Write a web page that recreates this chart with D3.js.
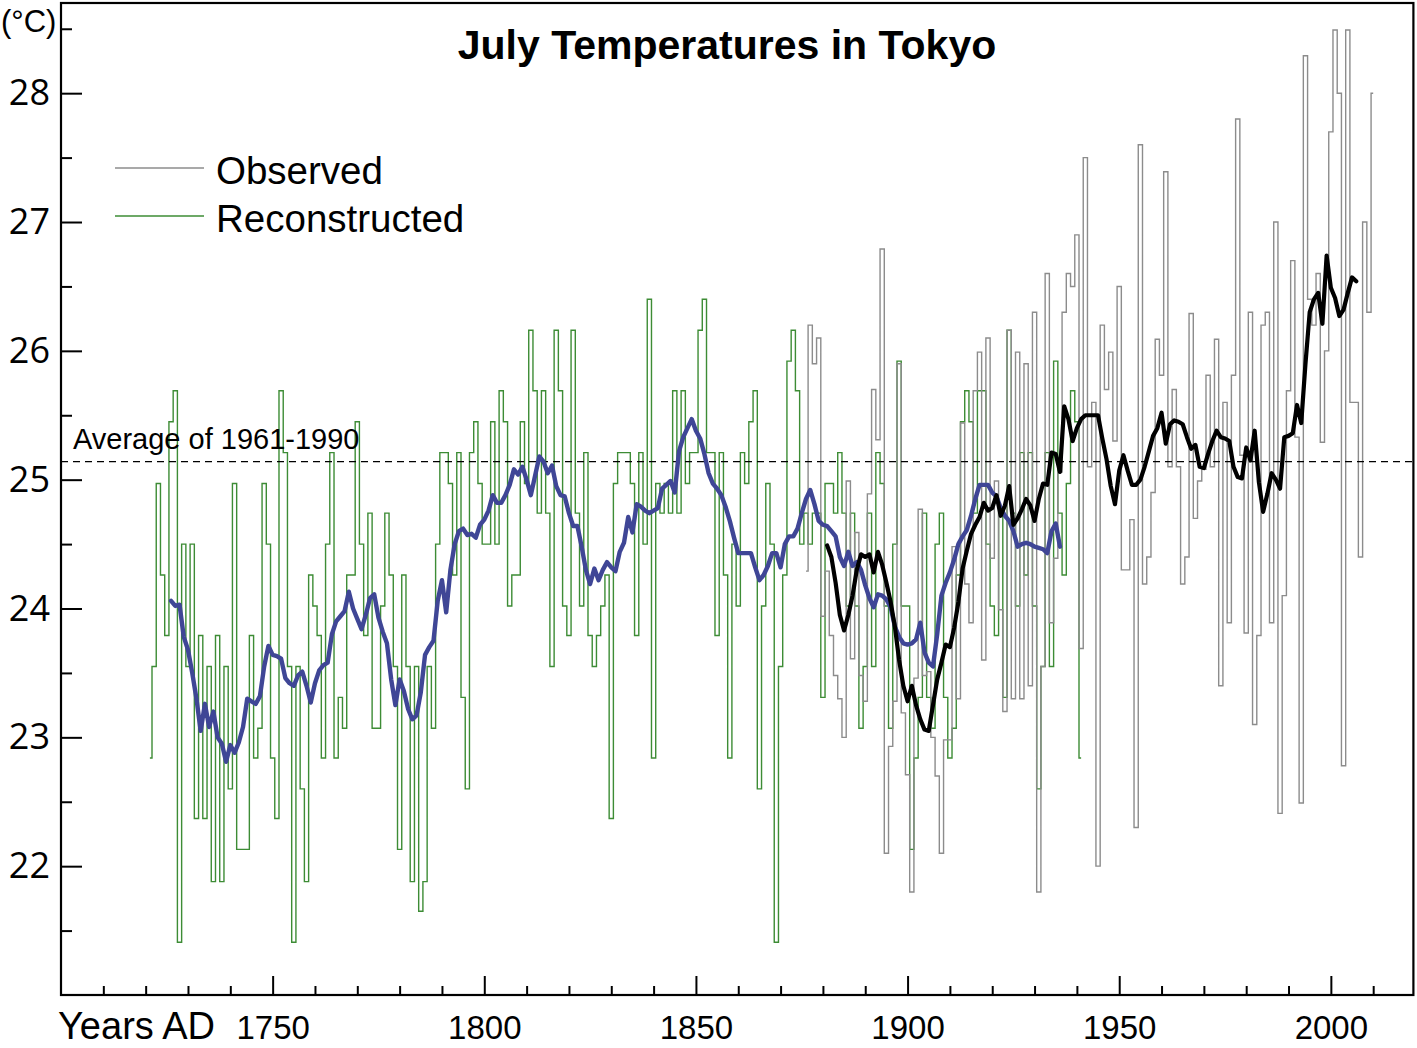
<!DOCTYPE html>
<html>
<head>
<meta charset="utf-8">
<script src="https://cdn.jsdelivr.net/npm/d3@7"></script>
<style>
  html, body { margin: 0; padding: 0; background: #ffffff; }
  svg { display: block; }
</style>
</head>
<body>
<svg id="chart" width="1417" height="1048"></svg>
<script>
// ---------------- DATA ----------------
const chartTitle = "July Temperatures in Tokyo";
const unitLabel = "(°C)";
const xAxisLabel = "Years AD";
const seriesNames = ["Observed", "Reconstructed"];
const avgLabel = "Average of 1961-1990";
const avgValue = 25.14;

const xMajorTicks = [1750, 1800, 1850, 1900, 1950, 2000];
const xMinorTicks = [1710, 1720, 1730, 1740, 1760, 1770, 1780, 1790, 1810, 1820, 1830, 1840,
                     1860, 1870, 1880, 1890, 1910, 1920, 1930, 1940, 1960, 1970, 1980, 1990, 2010];
const yMajorTicks = [22, 23, 24, 25, 26, 27, 28];
const yMinorTicks = [21.5, 22.5, 23.5, 24.5, 25.5, 26.5, 27.5, 28.5];

// Reconstructed July temperature (annual), 1721-1941
const reconStartYear = 1721;
const reconValues = [
  22.84, 23.55, 24.97, 24.26, 23.79, 25.45, 25.69, 21.41, 24.50, 23.55,
  24.50, 22.37, 23.79, 22.37, 23.55, 21.88, 23.79, 21.88, 23.55, 22.60,
  24.97, 22.13, 22.13, 22.13, 23.79, 22.84, 23.07, 24.97, 24.50, 22.84,
  22.37, 25.69, 25.21, 23.55, 21.41, 23.55, 22.60, 21.88, 24.26, 24.02,
  23.79, 22.84, 24.50, 25.21, 22.84, 23.31, 23.07, 24.26, 24.26, 25.45,
  24.50, 23.79, 24.74, 23.07, 23.07, 24.02, 24.74, 24.26, 23.55, 22.13,
  24.26, 23.55, 21.88, 23.55, 21.65, 21.88, 23.55, 23.07, 24.50, 25.21,
  25.21, 24.97, 24.26, 25.21, 23.31, 22.60, 25.21, 25.45, 24.97, 24.50,
  24.50, 25.45, 24.50, 25.69, 25.45, 24.02, 24.26, 24.26, 25.45, 24.97,
  26.16, 25.69, 24.74, 25.69, 24.74, 23.55, 26.16, 25.69, 24.02, 23.79,
  26.16, 24.74, 24.02, 25.21, 23.79, 23.55, 23.79, 24.02, 24.26, 22.37,
  24.97, 25.21, 25.21, 25.21, 24.97, 23.79, 25.21, 24.50, 26.40, 22.84,
  24.97, 24.74, 24.97, 24.74, 25.69, 24.74, 25.69, 24.97, 25.21, 25.21,
  26.16, 26.40, 25.21, 25.21, 23.79, 25.21, 24.26, 22.84, 24.50, 24.02,
  25.21, 24.97, 25.45, 25.69, 22.60, 24.02, 24.97, 24.50, 21.41, 23.55,
  24.26, 25.92, 26.16, 25.69, 24.50, 24.74, 24.50, 24.74, 24.74, 23.31,
  24.97, 24.97, 24.74, 25.21, 24.74, 24.02, 24.74, 24.02, 23.07, 23.55,
  24.74, 23.55, 25.21, 24.97, 24.02, 23.07, 24.50, 25.92, 24.02, 24.02,
  22.13, 22.84, 23.31, 24.74, 23.31, 23.07, 24.50, 24.74, 23.31, 22.84,
  23.07, 24.26, 25.45, 25.69, 25.45, 24.74, 25.69, 25.69, 24.50, 24.02,
  23.79, 24.74, 23.31, 26.16, 24.74, 24.02, 25.21, 24.26, 25.21, 24.02,
  22.60, 23.55, 25.21, 23.55, 25.92, 24.74, 24.26, 24.97, 25.69, 25.45, 22.84
];

// Observed July temperature (annual), 1876-2010
const obsStartYear = 1876;
const obsValues = [
  24.29, 26.20, 25.90, 26.10, 23.94, 24.29, 23.79, 23.48, 23.30, 23.00,
  24.99, 23.61, 24.59, 23.48, 23.28, 24.89, 25.70, 25.31, 26.79, 22.10,
  22.93, 23.28, 25.90, 23.19, 22.71, 21.80, 23.46, 24.77, 23.48, 23.51,
  23.00, 22.70, 22.10, 22.98, 22.98, 24.48, 23.30, 25.44, 24.19, 23.89,
  25.69, 25.99, 23.60, 26.10, 24.39, 24.99, 23.99, 23.20, 26.16, 23.30,
  25.99, 23.30, 25.90, 23.40, 26.30, 21.80, 23.55, 26.60, 23.89, 24.39,
  25.06, 26.30, 26.60, 26.50, 26.90, 23.69, 27.50, 25.10, 25.60, 22.00,
  26.20, 25.70, 25.99, 25.30, 26.50, 24.30, 24.30, 24.69, 22.30, 27.60,
  24.19, 24.40, 24.90, 26.09, 25.81, 27.39, 25.10, 25.70, 25.10, 24.19,
  24.40, 26.29, 24.70, 24.99, 25.08, 25.81, 25.10, 26.09, 23.40, 25.60,
  23.89, 25.81, 27.80, 25.19, 23.81, 26.30, 23.10, 23.79, 26.20, 26.30,
  23.89, 27.00, 22.41, 24.10, 25.69, 26.70, 25.33, 22.49, 28.29, 26.40,
  26.20, 26.60, 25.29, 26.00, 27.70, 28.49, 28.00, 22.78, 28.49, 25.60,
  25.60, 24.40, 27.00, 26.30, 28.00
];

// Smoothed reconstruction (blue), 1726-1936
const reconSmoothStartYear = 1726;
const reconSmoothValues = [
  24.06, 24.02, 24.03, 23.78, 23.68, 23.50, 23.30, 23.05, 23.26, 23.08,
  23.20, 23.00, 22.95, 22.81, 22.94, 22.88, 22.96, 23.08, 23.30, 23.28,
  23.26, 23.32, 23.55, 23.71, 23.64, 23.63, 23.61, 23.46, 23.42, 23.40,
  23.48, 23.51, 23.40, 23.27, 23.42, 23.52, 23.56, 23.58, 23.80, 23.90,
  23.94, 23.98, 24.13, 24.00, 23.92, 23.84, 23.95, 24.08, 24.11, 23.93,
  23.82, 23.73, 23.45, 23.25, 23.45, 23.36, 23.22, 23.14, 23.17, 23.35,
  23.64, 23.70, 23.75, 24.06, 24.22, 23.97, 24.30, 24.50, 24.60, 24.62,
  24.57, 24.58, 24.55, 24.65, 24.69, 24.76, 24.88, 24.82, 24.82, 24.88,
  24.96, 25.08, 25.04, 25.10, 25.00, 24.88, 25.03, 25.18, 25.14, 25.05,
  25.11, 24.95, 24.88, 24.87, 24.74, 24.64, 24.64, 24.48, 24.30, 24.19,
  24.31, 24.22, 24.30, 24.36, 24.32, 24.29, 24.44, 24.51, 24.71, 24.59,
  24.81, 24.79, 24.76, 24.74, 24.76, 24.78, 24.93, 24.96, 24.99, 24.90,
  25.22, 25.33, 25.40, 25.47, 25.38, 25.32, 25.20, 25.05, 24.97, 24.93,
  24.88, 24.79, 24.68, 24.55, 24.43, 24.43, 24.43, 24.43, 24.32, 24.22,
  24.26, 24.33, 24.43, 24.43, 24.32, 24.50, 24.56, 24.56, 24.62, 24.74,
  24.85, 24.92, 24.81, 24.68, 24.65, 24.64, 24.60, 24.56, 24.40, 24.33,
  24.44, 24.33, 24.36, 24.30, 24.18, 24.08, 24.01, 24.11, 24.10, 24.07,
  24.01, 23.86, 23.78, 23.73, 23.72, 23.73, 23.76, 23.89, 23.66, 23.58,
  23.55, 23.80, 24.10, 24.20, 24.28, 24.38, 24.50, 24.56, 24.61, 24.72,
  24.85, 24.96, 24.96, 24.96, 24.90, 24.87, 24.78, 24.72, 24.68, 24.60,
  24.48, 24.50, 24.51, 24.50, 24.48, 24.47, 24.46, 24.43, 24.60, 24.66, 24.48
];

// Smoothed observations (black), 1881-2006
const obsSmoothStartYear = 1881;
const obsSmoothValues = [
  24.49, 24.40, 24.20, 23.95, 23.83, 23.95, 24.10, 24.30, 24.42, 24.40,
  24.42, 24.28, 24.44, 24.34, 24.20, 24.05, 23.86, 23.60, 23.40, 23.28,
  23.40, 23.25, 23.14, 23.06, 23.05, 23.25, 23.45, 23.58, 23.72, 23.70,
  23.85, 24.05, 24.31, 24.45, 24.58, 24.65, 24.71, 24.82, 24.76, 24.78,
  24.88, 24.72, 24.80, 24.95, 24.65, 24.70, 24.77, 24.85, 24.80, 24.68,
  24.85, 24.97, 24.96, 25.21, 25.20, 25.06, 25.57, 25.47, 25.30, 25.40,
  25.47, 25.50, 25.50, 25.50, 25.50, 25.32, 25.16, 24.95, 24.81, 25.07,
  25.19, 25.07, 24.96, 24.96, 25.00, 25.10, 25.22, 25.34, 25.40, 25.52,
  25.28, 25.43, 25.46, 25.45, 25.43, 25.33, 25.24, 25.27, 25.10, 25.09,
  25.20, 25.30, 25.38, 25.33, 25.32, 25.30, 25.10, 25.02, 25.01, 25.25,
  25.15, 25.38, 24.98, 24.75, 24.89, 25.05, 25.00, 24.93, 25.33, 25.34,
  25.36, 25.58, 25.44, 25.90, 26.30, 26.40, 26.45, 26.21, 26.74, 26.49,
  26.41, 26.27, 26.32, 26.45, 26.57, 26.54
];

// ---------------- DRAWING ----------------
const colors = { obs: "#8c8c8c", recon: "#3d8c35", reconSmooth: "#3f4696", obsSmooth: "#000000" };
const tickFont = "'Open Sans', 'DejaVu Sans', sans-serif";
const textFont = "'Liberation Sans', Arial, sans-serif";

const svg = d3.select("#chart");
const pLeft = 61, pRight = 1413.4, pTop = 3, pBottom = 995;

const x = d3.scaleLinear().domain([1700, 2019.5]).range([pLeft, pRight]);
const y = d3.scaleLinear().domain([21, 28.7]).range([pBottom, pTop]);

const toPairs = (start, vals) => vals.map((v, i) => [start + i, v]);
const recon = toPairs(reconStartYear, reconValues);
const obs = toPairs(obsStartYear, obsValues);
const reconSmooth = toPairs(reconSmoothStartYear, reconSmoothValues);
const obsSmooth = toPairs(obsSmoothStartYear, obsSmoothValues);

svg.append("defs").append("clipPath").attr("id", "plot")
  .append("rect").attr("x", pLeft).attr("y", pTop).attr("width", pRight - pLeft).attr("height", pBottom - pTop);

const g = svg.append("g").attr("clip-path", "url(#plot)");

const stepLine = d3.line().x(d => x(d[0])).y(d => y(d[1])).curve(d3.curveStep);
const smoothLine = d3.line().x(d => x(d[0])).y(d => y(d[1])).curve(d3.curveLinear);

g.append("path").datum(recon).attr("d", stepLine)
  .attr("fill", "none").attr("stroke", colors.recon).attr("stroke-width", 1.4);
g.append("path").datum(obs).attr("d", stepLine)
  .attr("fill", "none").attr("stroke", colors.obs).attr("stroke-width", 1.4);

// average line
g.append("line")
  .attr("x1", pLeft).attr("x2", pRight)
  .attr("y1", y(avgValue)).attr("y2", y(avgValue))
  .attr("stroke", "#000").attr("stroke-width", 1.2).attr("stroke-dasharray", "7,5");

g.append("path").datum(reconSmooth).attr("d", smoothLine)
  .attr("fill", "none").attr("stroke", colors.reconSmooth).attr("stroke-width", 4.4)
  .attr("stroke-linejoin", "round").attr("stroke-linecap", "round");
g.append("path").datum(obsSmooth).attr("d", smoothLine)
  .attr("fill", "none").attr("stroke", colors.obsSmooth).attr("stroke-width", 4.2)
  .attr("stroke-linejoin", "round").attr("stroke-linecap", "round");

// axes
const xMajor = d3.axisBottom(x).tickValues(xMajorTicks).tickFormat(d3.format("d"))
  .tickSizeInner(-19).tickSizeOuter(0).tickPadding(21);
const xMinor = d3.axisBottom(x).tickValues(xMinorTicks).tickFormat("")
  .tickSizeInner(-9).tickSizeOuter(0);
const yMajor = d3.axisLeft(y).tickValues(yMajorTicks).tickFormat(d3.format("d"))
  .tickSizeInner(-21).tickSizeOuter(0).tickPadding(11);
const yMinor = d3.axisLeft(y).tickValues(yMinorTicks).tickFormat("")
  .tickSizeInner(-11).tickSizeOuter(0);

function styleAxis(sel, fontSize, family) {
  sel.select(".domain").remove();
  sel.selectAll(".tick line").attr("stroke", "#000").attr("stroke-width", 2);
  sel.selectAll(".tick text").attr("fill", "#000")
    .style("font-family", family).style("font-size", fontSize + "px");
}
svg.append("g").attr("transform", `translate(0,${pBottom})`).call(xMajor).call(s => styleAxis(s, 33, textFont));
svg.append("g").attr("transform", `translate(0,${pBottom})`).call(xMinor).call(s => styleAxis(s, 33, textFont));
svg.append("g").attr("transform", `translate(${pLeft},0)`).call(yMajor).call(s => styleAxis(s, 36, tickFont));
svg.append("g").attr("transform", `translate(${pLeft},0)`).call(yMinor).call(s => styleAxis(s, 36, tickFont));

// frame
svg.append("rect").attr("x", pLeft).attr("y", pTop).attr("width", pRight - pLeft).attr("height", pBottom - pTop)
  .attr("fill", "none").attr("stroke", "#000").attr("stroke-width", 2.2);

// texts
svg.append("text").attr("x", 727).attr("y", 59).attr("text-anchor", "middle")
  .style("font-family", textFont).style("font-weight", "bold").style("font-size", "41px")
  .text(chartTitle);

svg.append("text").attr("x", 1).attr("y", 32)
  .style("font-family", textFont).style("font-size", "31px").text(unitLabel);

svg.append("text").attr("x", 58).attr("y", 1039)
  .style("font-family", textFont).style("font-size", "38px").text(xAxisLabel);

svg.append("text").attr("x", 73).attr("y", 449)
  .style("font-family", textFont).style("font-size", "29px").text(avgLabel);

// legend
const legendColors = [colors.obs, colors.recon];
seriesNames.forEach((name, i) => {
  const ly = 168 + i * 48;
  svg.append("line").attr("x1", 115).attr("x2", 204).attr("y1", ly).attr("y2", ly)
    .attr("stroke", legendColors[i]).attr("stroke-width", 1.5);
  svg.append("text").attr("x", 216).attr("y", ly + 16)
    .style("font-family", textFont).style("font-size", "38.5px").text(name);
});
</script>
</body>
</html>
